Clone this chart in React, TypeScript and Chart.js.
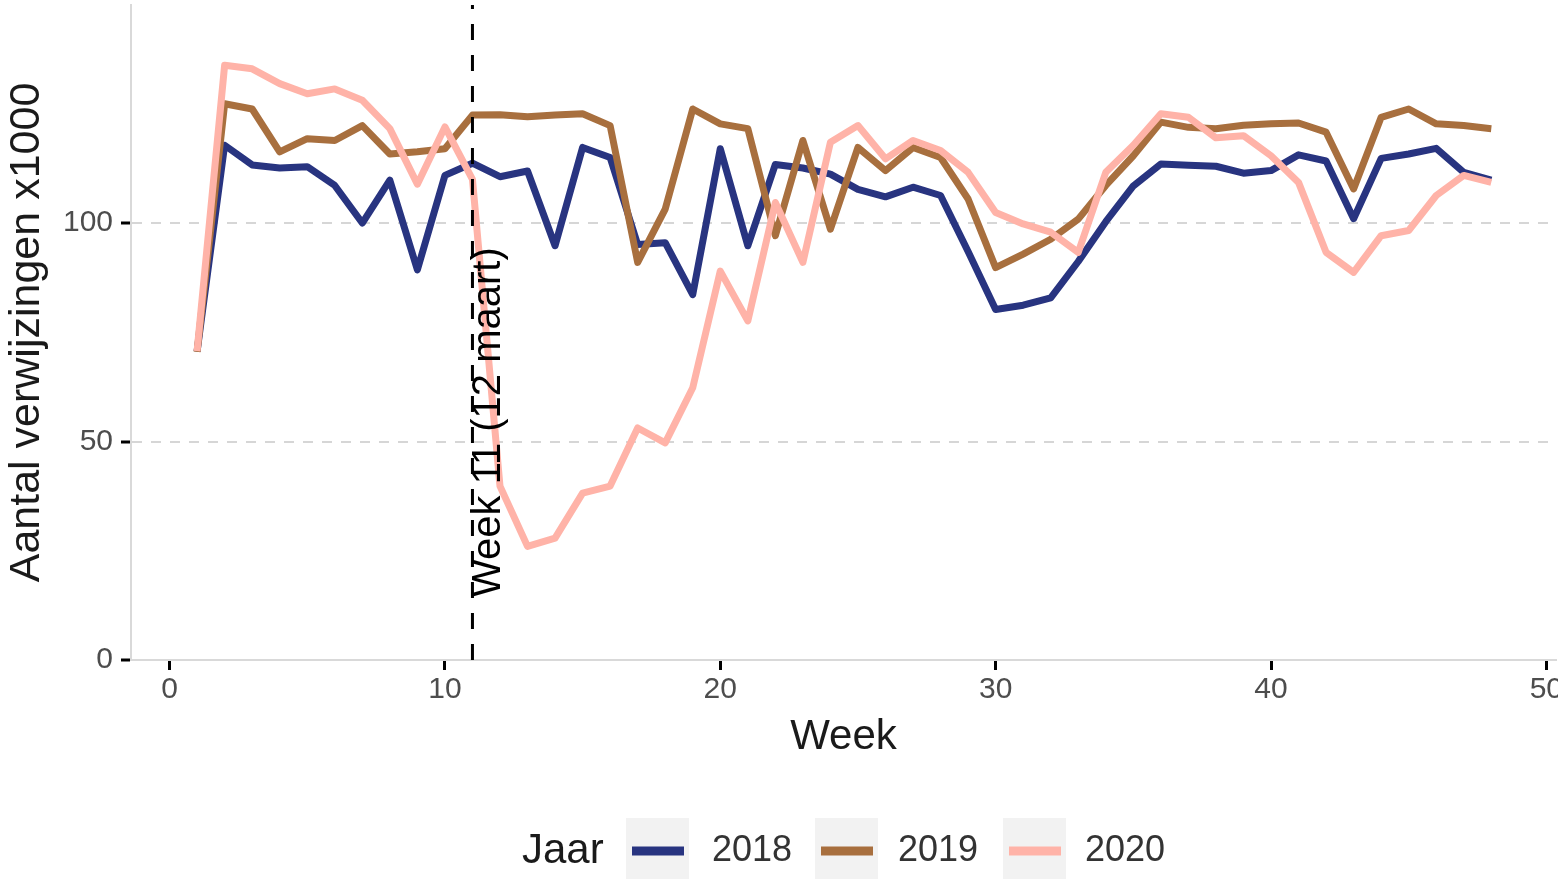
import { useEffect, useRef } from "react";
import { Chart, registerables } from "chart.js";

Chart.register(...registerables);

const weeks = [
  1, 2, 3, 4, 5, 6, 7, 8, 9, 10, 11, 12, 13, 14, 15, 16, 17, 18, 19, 20, 21, 22, 23, 24,
  25, 26, 27, 28, 29, 30, 31, 32, 33, 34, 35, 36, 37, 38, 39, 40, 41, 42, 43, 44, 45, 46, 47, 48,
];

const values2018 = [
  70.6, 117.8, 113.3, 112.6, 112.9, 108.6, 100.0, 109.8, 89.3, 110.9, 113.7, 110.6,
  111.9, 94.8, 117.3, 115.0, 95.1, 95.5, 83.6, 117.0, 94.8, 113.4, 112.6, 111.2,
  107.7, 106.0, 108.2, 106.3, 93.5, 80.2, 81.2, 82.9, 91.2, 100.3, 108.5, 113.5,
  113.2, 113.0, 111.4, 112.0, 115.6, 114.2, 101.0, 114.8, 115.8, 117.1, 111.6, 109.8,
];

const values2019 = [
  70.5, 127.3, 126.1, 116.3, 119.3, 118.9, 122.3, 115.8, 116.3, 117.0, 124.7, 124.8,
  124.3, 124.7, 125.0, 122.3, 91.0, 103.2, 126.1, 122.7, 121.6, 97.1, 118.9, 98.6,
  117.3, 112.0, 117.3, 115.0, 105.5, 89.8, 92.9, 96.3, 100.9, 108.6, 115.4, 123.1,
  121.9, 121.6, 122.4, 122.7, 122.9, 120.8, 107.8, 124.2, 126.1, 122.7, 122.3, 121.6,
];

const values2020 = [
  70.7, 136.1, 135.3, 131.9, 129.6, 130.7, 128.1, 121.6, 108.9, 122.0, 110.0, 39.8,
  26.0, 27.9, 38.2, 39.8, 53.1, 49.7, 62.3, 89.0, 77.6, 104.7, 91.0, 118.5,
  122.3, 114.7, 118.9, 116.6, 111.6, 102.4, 99.8, 97.9, 93.3, 111.6, 117.8, 125.0,
  124.2, 119.5, 120.0, 115.4, 109.3, 93.3, 88.7, 97.1, 98.3, 106.3, 110.9, 109.3,
];

const years = ["2018", "2019", "2020"];
const seriesValues = [values2018, values2019, values2020];
const seriesColors = ["#283480", "#A86F3E", "#FFB3A8"];

const xTicks = [0, 10, 20, 30, 40, 50];
const yTicks = [0, 50, 100];

const markerWeek = 11;
const markerLabel = "Week 11 (12 maart)";
const xTitle = "Week";
const yTitle = "Aantal verwijzingen x1000";
const legendTitle = "Jaar";

const FONT = '"Liberation Sans", Arial, Helvetica, sans-serif';
const CANVAS_W = 1558;
const CANVAS_H = 879;

const overlayPlugin = {
  id: "overlay",
  afterDatasetsDraw(chart: any) {
    const { ctx, chartArea, scales } = chart;
    const x = scales.x.getPixelForValue(markerWeek);
    ctx.save();
    ctx.strokeStyle = "#000000";
    ctx.lineWidth = 3;
    ctx.setLineDash([16, 15]);
    ctx.lineDashOffset = 0;
    ctx.beginPath();
    ctx.moveTo(x, chartArea.bottom);
    ctx.lineTo(x, chartArea.top);
    ctx.stroke();
    ctx.setLineDash([]);
    ctx.translate(x + 17, 597);
    ctx.rotate(-Math.PI / 2);
    ctx.fillStyle = "#000000";
    ctx.font = `40px ${FONT}`;
    ctx.textAlign = "left";
    ctx.textBaseline = "middle";
    ctx.fillText(markerLabel, 0, 0);
    ctx.restore();
  },
  afterDraw(chart: any) {
    const { ctx, chartArea } = chart;
    ctx.save();
    ctx.fillStyle = "#1A1A1A";
    ctx.font = `42px ${FONT}`;
    ctx.textAlign = "center";
    ctx.textBaseline = "middle";
    ctx.fillText(xTitle, (chartArea.left + chartArea.right) / 2, 737);
    ctx.save();
    ctx.translate(27, (chartArea.top + chartArea.bottom) / 2);
    ctx.rotate(-Math.PI / 2);
    ctx.font = `43px ${FONT}`;
    ctx.fillText(yTitle, 0, 0);
    ctx.restore();

    const legendY = 851;
    ctx.textAlign = "left";
    ctx.font = `42px ${FONT}`;
    ctx.fillStyle = "#1A1A1A";
    ctx.fillText(legendTitle, 522, legendY);
    const boxX = [626, 815, 1003];
    const labelX = [712, 898, 1085];
    years.forEach((yr, i) => {
      ctx.fillStyle = "#F2F2F2";
      ctx.fillRect(boxX[i], 818, 63, 61);
      ctx.strokeStyle = seriesColors[i];
      ctx.lineWidth = 9;
      ctx.beginPath();
      ctx.moveTo(boxX[i] + 6, legendY);
      ctx.lineTo(boxX[i] + 58, legendY);
      ctx.stroke();
      ctx.fillStyle = "#333333";
      ctx.font = `36px ${FONT}`;
      ctx.fillText(yr, labelX[i], legendY);
    });
    ctx.restore();
  },
};

export default function App() {
  const canvasRef = useRef<HTMLCanvasElement | null>(null);

  useEffect(() => {
    document.body.style.margin = "0";
    const canvas = canvasRef.current;
    if (!canvas) return;
    const chart = new Chart(canvas, {
      type: "line",
      data: {
        datasets: seriesValues.map((vals, i) => ({
          label: years[i],
          data: weeks.map((w, j) => ({ x: w, y: vals[j] })),
          borderColor: seriesColors[i],
          backgroundColor: seriesColors[i],
          borderWidth: 7,
          pointRadius: 0,
          fill: false,
          tension: 0,
          borderJoinStyle: "round",
          order: 3 - i,
        })),
      },
      options: {
        animation: false,
        responsive: false,
        devicePixelRatio: 1,
        layout: { padding: { left: 0, right: 2, top: 5, bottom: 0 } },
        plugins: {
          legend: { display: false },
          tooltip: { enabled: false },
        },
        scales: {
          x: {
            type: "linear",
            min: -1.4,
            max: 50.35,
            afterBuildTicks: (s: any) => {
              s.ticks = xTicks.map((v) => ({ value: v }));
            },
            afterFit: (s: any) => {
              s.height = 219;
              s.paddingLeft = 0;
              s.paddingRight = 0;
            },
            grid: {
              drawOnChartArea: false,
              color: "rgba(0,0,0,0)",
              tickColor: "#000000",
              tickWidth: 3,
              tickLength: 10,
            },
            border: { display: true, color: "#D9D9D9", width: 2 },
            ticks: {
              color: "#4D4D4D",
              font: { family: FONT, size: 30 },
              padding: 2,
              maxRotation: 0,
              autoSkip: false,
            },
          },
          y: {
            type: "linear",
            min: 0,
            max: 149.9,
            afterBuildTicks: (s: any) => {
              s.ticks = yTicks.map((v) => ({ value: v }));
            },
            afterFit: (s: any) => {
              s.width = 131;
              s.paddingTop = 0;
              s.paddingBottom = 0;
            },
            grid: {
              color: (c: any) => (c.tick && c.tick.value === 0 ? "rgba(0,0,0,0)" : "#D6D6D6"),
              lineWidth: 2,
              tickColor: "#000000",
              tickWidth: 3,
              tickLength: 10,
            },
            border: { display: true, color: "#D9D9D9", width: 2, dash: [10, 9] },
            ticks: {
              color: "#4D4D4D",
              font: { family: FONT, size: 30 },
              padding: 8,
            },
          },
        },
      },
      plugins: [overlayPlugin],
    } as any);
    return () => chart.destroy();
  }, []);

  return (
    <div style={{ width: CANVAS_W, height: CANVAS_H }}>
      <canvas
        ref={canvasRef}
        width={CANVAS_W}
        height={CANVAS_H}
        style={{ display: "block", width: CANVAS_W, height: CANVAS_H }}
      />
    </div>
  );
}
